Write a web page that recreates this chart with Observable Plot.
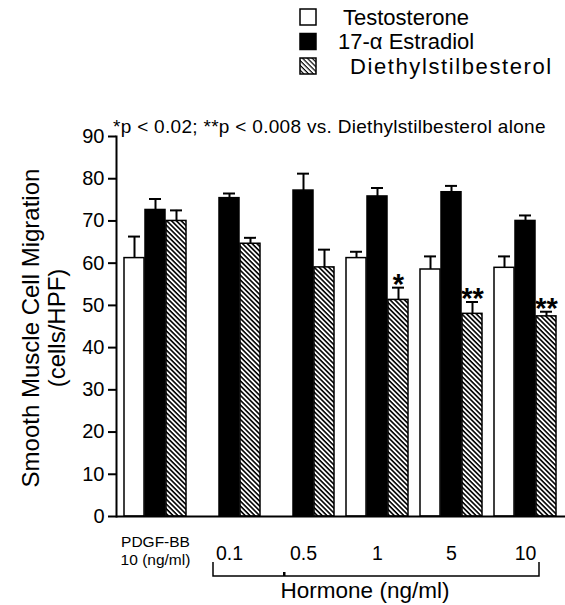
<!DOCTYPE html>
<html><head><meta charset="utf-8">
<script src="https://cdn.jsdelivr.net/npm/d3@7"></script>
<script src="https://cdn.jsdelivr.net/npm/@observablehq/plot@0.6"></script>
<style>
body{margin:0;background:#fff;}
#chart{width:565px;height:605px;}
svg{font-family:"Liberation Sans", Arial, Helvetica, sans-serif;}
</style></head><body><div id="chart"></div>
<script>
// ---- data ----
const groups = ["PDGF", "0.1", "0.5", "1", "5", "10"];
const groupLabels = ["PDGF-BB\n10 (ng/ml)", "0.1", "0.5", "1", "5", "10"];
const series = ["Testosterone", "17-\u03b1 Estradiol", "Diethylstilbesterol"];
const testosterone    = [61.2, null, null, 61.2, 58.5, 58.9];
const testosteroneErr = [66.3, null, null, 62.7, 61.6, 61.6];
const estradiol       = [72.6, 75.4, 77.2, 75.8, 76.8, 70.0];
const estradiolErr    = [75.2, 76.5, 81.2, 77.8, 78.3, 71.3];
const des             = [70.0, 64.6, 59.0, 51.3, 48.0, 47.4];
const desErr          = [72.5, 66.0, 63.2, 54.2, 50.8, 48.5];
const significance    = ["", "", "", "*", "**", "**"];
const yTicks = [0, 10, 20, 30, 40, 50, 60, 70, 80, 90];
const yLabel = ["Smooth Muscle Cell Migration", "(cells/HPF)"];
const xLabel = "Hormone (ng/ml)";
const note = "*p < 0.02; **p < 0.008 vs. Diethylstilbesterol alone";

// ---- layout ----
const W = 565, H = 605;
const mL = 116, mR = 0, mT = 136, mB = 89;
const padIn = 0.158, padOut = 0.08;
const band = d3.scaleBand(groups, [mL, W - mR]).paddingInner(padIn).paddingOuter(padOut);
const bw = band.bandwidth() / 3;
const capInset = 4;

const values = [testosterone, estradiol, des];
const errs = [testosteroneErr, estradiolErr, desErr];
const rows = [];
groups.forEach((g, i) => {
  series.forEach((s, si) => {
    const v = values[si][i];
    if (v != null) rows.push({group: g, series: s, si, value: v, err: errs[si][i], sig: si === 2 ? significance[i] : ""});
  });
});

const fills = ["white", "black", "url(#hatch)"];
const marks = [];
series.forEach((s, si) => {
  const d = rows.filter(r => r.si === si);
  marks.push(Plot.barY(d, {x: "group", y: "value", fill: fills[si], stroke: "black", strokeWidth: 1.5,
    insetLeft: si * bw, insetRight: (2 - si) * bw}));
  marks.push(Plot.ruleX(d, {x: "group", y1: "value", y2: "err", dx: (si - 1) * bw, strokeWidth: 2}));
  marks.push(Plot.tickY(d, {x: "group", y: "err", strokeWidth: 2,
    insetLeft: si * bw + capInset, insetRight: (2 - si) * bw + capInset}));
});
marks.push(Plot.text(rows.filter(r => r.sig), {x: "group", y: "err", text: "sig", dx: bw, dy: 6,
  lineAnchor: "bottom", fontSize: 29, fontWeight: "bold"}));

const plot = Plot.plot({
  width: W, height: H,
  marginLeft: mL, marginRight: mR, marginTop: mT, marginBottom: mB,
  style: {fontFamily: '"Liberation Sans", Arial, Helvetica, sans-serif', background: "white", color: "black"},
  x: {domain: groups, paddingInner: padIn, paddingOuter: padOut, axis: null},
  y: {domain: [0, 90], axis: null},
  marks: [
    ...marks,
    Plot.ruleY([0], {strokeWidth: 2}),
    Plot.frame({anchor: "left", strokeWidth: 2}),
    Plot.axisY({ticks: yTicks, tickSize: 8, tickPadding: 4, fontSize: 20, strokeWidth: 2, label: null}),
    Plot.axisX({ticks: groups.slice(1), tickSize: 0, tickPadding: 30, fontSize: 19.5, label: null,
      tickFormat: d => groupLabels[groups.indexOf(d)]}),
    Plot.axisX({ticks: groups.slice(0, 1), tickSize: 0, tickPadding: 17, fontSize: 15.5, lineHeight: 1.2, label: null,
      tickFormat: d => groupLabels[groups.indexOf(d)]})
  ]
});
document.getElementById("chart").appendChild(plot);

// ---- decorations ----
const svg = d3.select(plot);
const defs = svg.insert("defs", ":first-child");
const pat = defs.append("pattern").attr("id", "hatch").attr("patternUnits", "userSpaceOnUse")
  .attr("width", 3.4).attr("height", 3.4).attr("patternTransform", "rotate(45)");
pat.append("rect").attr("width", 3.4).attr("height", 3.4).attr("fill", "white");
pat.append("rect").attr("width", 3.4).attr("height", 1.6).attr("fill", "black");
const pat2 = defs.append("pattern").attr("id", "hatch2").attr("patternUnits", "userSpaceOnUse")
  .attr("width", 3.4).attr("height", 3.4).attr("patternTransform", "rotate(45)");
pat2.append("rect").attr("width", 3.4).attr("height", 3.4).attr("fill", "white");
pat2.append("rect").attr("width", 3.4).attr("height", 1.2).attr("fill", "black");

const x = plot.scale("x"), y = plot.scale("y");
const cx = g => x.apply(g) + x.bandwidth / 2;

// legend
const lg = svg.append("g").attr("text-anchor", "start");
const legendFills = ["white", "black", "url(#hatch2)"];
const legendTextX = [343, 338, 350];
const legendSpacing = [0, 0, 1.6];
series.forEach((s, i) => {
  const yy = 17 + i * 24.5;
  lg.append("rect").attr("x", 300).attr("y", yy - 8).attr("width", 16).attr("height", 16)
    .attr("fill", legendFills[i]).attr("stroke", "black").attr("stroke-width", 1.5);
  lg.append("text").attr("x", legendTextX[i]).attr("y", yy).attr("dy", "0.36em")
    .attr("font-size", 22).attr("letter-spacing", legendSpacing[i]).text(s);
});

// significance note
svg.append("text").attr("text-anchor", "start").attr("x", 113).attr("y", 126).attr("dy", "0.36em")
  .attr("font-size", 19).attr("letter-spacing", 0.3).text(note);

// y label
const yMid = (y.apply(0) + y.apply(90)) / 2;
yLabel.forEach((t, i) => {
  svg.append("text").attr("transform", `translate(${30 + i * 26},${yMid + 2}) rotate(-90)`)
    .attr("text-anchor", "middle").attr("dy", "0.36em").attr("font-size", 24).text(t);
});

// bracket
const bx0 = cx(groups[1]) - 16, bx1 = cx(groups[5]) + 14;
const by = y.apply(0) + 60, byTop = y.apply(0) + 46;
svg.append("path").attr("d", `M${bx0},${byTop}V${by}H${bx1}V${byTop}`)
  .attr("fill", "none").attr("stroke", "black").attr("stroke-width", 1.5);
svg.append("rect").attr("x", bx0 + 70).attr("y", by - 4).attr("width", 2.5).attr("height", 4).attr("fill", "black");
svg.append("text").attr("x", (bx0 + bx1) / 2 - 11).attr("y", 590).attr("dy", "0.36em")
  .attr("text-anchor", "middle").attr("font-size", 22.5).text(xLabel);
</script></body></html>
